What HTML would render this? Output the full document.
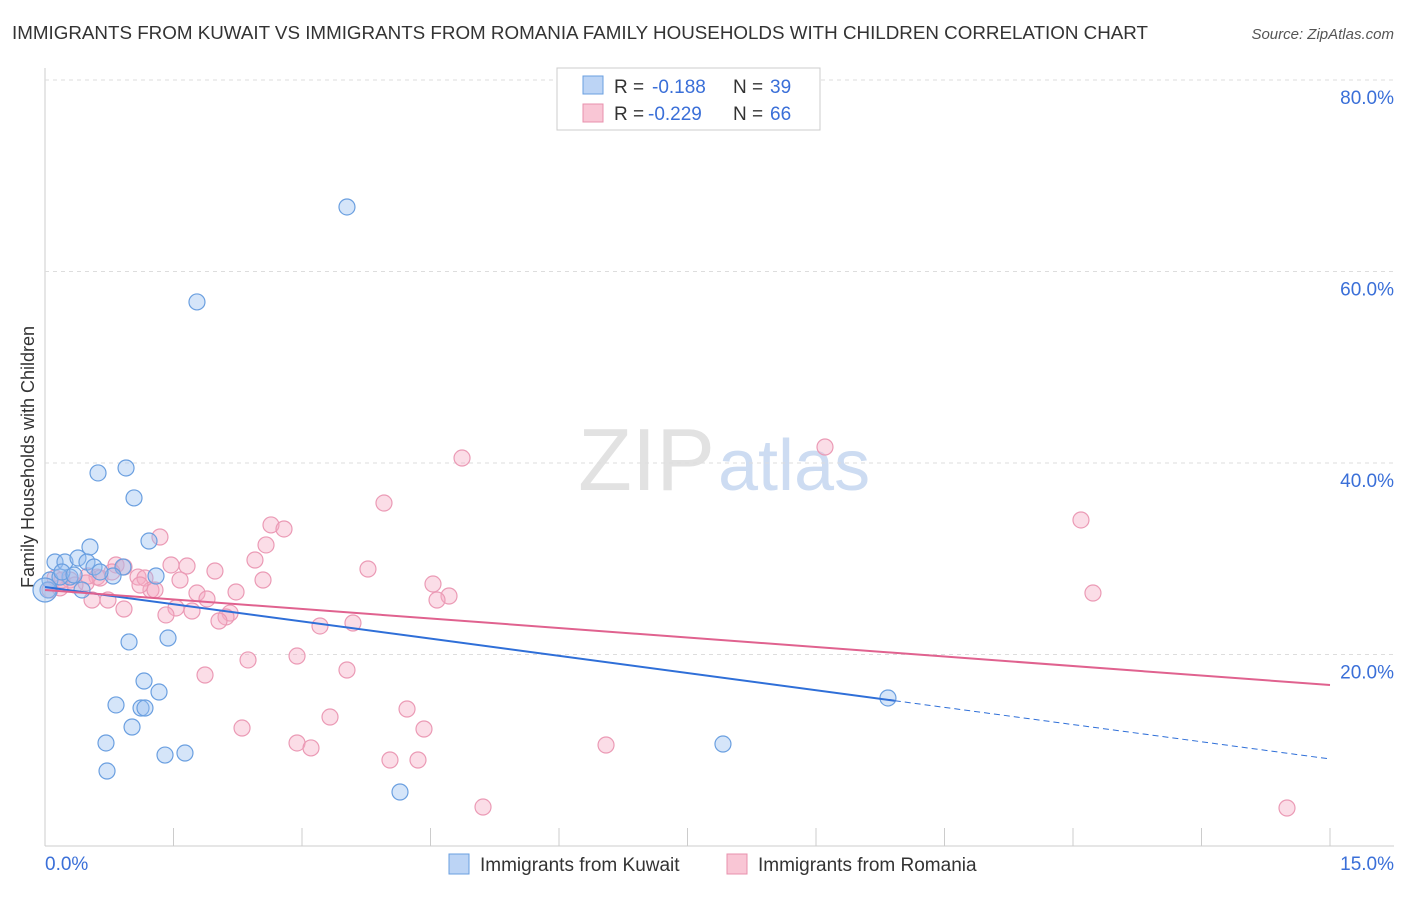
<!DOCTYPE html>
<html><head><meta charset="utf-8"><style>
body{margin:0;background:#fff;font-family:"Liberation Sans",sans-serif}
svg text{font-family:"Liberation Sans",sans-serif}
</style></head><body>
<svg id="c" width="1406" height="892">
<text x="12" y="39" font-size="18.8" fill="#333">IMMIGRANTS FROM KUWAIT VS IMMIGRANTS FROM ROMANIA FAMILY HOUSEHOLDS WITH CHILDREN CORRELATION CHART</text>
<text x="1394" y="39" font-size="15" fill="#555" font-style="italic" text-anchor="end">Source: ZipAtlas.com</text>
<text x="715" y="490" font-size="88" fill="#e2e2e2" text-anchor="end" font-family="Liberation Serif">ZIP</text>
<text x="718" y="490" font-size="72" fill="#cddcf2">atlas</text>
<text transform="translate(34,457) rotate(-90)" font-size="18" fill="#333" text-anchor="middle">Family Households with Children</text>
<g id="grid"></g><g id="pts"></g><g id="lines"></g>
<g>
<rect x="557" y="68" width="263" height="62" fill="#fff" stroke="#ccc"/>
<rect x="583" y="76" width="20" height="18" fill="#bcd4f5" stroke="#6a9fe0"/>
<rect x="583" y="104" width="20" height="18" fill="#f9c6d5" stroke="#e890ad"/>
<g font-size="19">
<text x="614" y="93" fill="#333">R =</text><text x="652" y="93" fill="#3a6fd8">-0.188</text>
<text x="733" y="93" fill="#333">N =</text><text x="770" y="93" fill="#3a6fd8">39</text></g>
<g font-size="19">
<text x="614" y="120" fill="#333">R =</text><text x="648" y="120" fill="#3a6fd8">-0.229</text>
<text x="733" y="120" fill="#333">N =</text><text x="770" y="120" fill="#3a6fd8">66</text></g>
</g>
<g>
<rect x="449" y="854" width="20" height="20" fill="#bcd4f5" stroke="#6a9fe0"/>
<text x="480" y="871" font-size="19" fill="#333">Immigrants from Kuwait</text>
<rect x="727" y="854" width="20" height="20" fill="#f9c6d5" stroke="#e890ad"/>
<text x="758" y="871" font-size="19" fill="#333">Immigrants from Romania</text>
</g>
<text x="45" y="870" font-size="19" fill="#3a6fd8">0.0%</text>
<text x="1394" y="870" font-size="19" fill="#3a6fd8" text-anchor="end">15.0%</text>
</svg>
<script>
const yTicks=[20,40,60,80];
const yTickLabels=["20.0%","40.0%","60.0%","80.0%"];
const xTicks=[0,1.5,3,4.5,6,7.5,9,10.5,12,13.5,15];
const kuwaitX=[3.525,1.774,0.946,0.619,1.039,1.214,0.525,0.117,0.233,0.385,0.49,0.572,0.91,1.296,0.794,0.292,0.058,0.175,0.035,0.432,1.436,0.981,1.156,1.331,0.829,1.121,1.167,1.016,0.712,1.634,1.401,0.724,4.144,7.914,9.84,0,0.198,0.339,0.642];
const kuwaitY=[66.74,56.82,39.48,38.96,36.35,31.85,31.23,29.66,29.66,30.08,29.66,29.14,29.14,28.2,28.2,28.09,27.78,28.09,26.74,26.74,21.72,21.31,17.23,16.08,14.73,14.41,14.41,12.43,10.76,9.71,9.5,7.83,5.64,10.65,15.46,26.74,28.62,28.3,28.62];
const romaniaX=[9.105,4.868,12.093,3.957,2.638,2.79,1.342,2.58,2.451,0.829,0.922,1.471,1.658,1.984,3.77,1.086,1.167,1.576,2.545,4.529,0.607,0.479,0.642,12.233,4.716,4.576,1.774,2.23,1.237,1.284,1.891,0.735,0.922,1.529,1.716,2.16,1.412,2.113,2.031,3.21,3.595,2.942,2.37,3.525,1.868,3.327,4.226,2.3,4.424,2.942,3.105,6.549,4.027,4.354,5.113,14.498,0.117,0.198,0.292,0.058,0.35,0.502,0.175,0.782,1.109,0.549];
const romaniaY=[41.67,40.52,34.05,35.82,33.53,33.11,32.27,31.44,29.87,29.35,29.14,29.35,29.24,28.72,28.93,28.09,27.99,27.78,27.78,27.36,28.09,27.47,27.99,26.42,26.11,25.69,26.42,26.53,26.74,26.74,25.8,25.69,24.75,24.86,24.54,24.33,24.13,23.92,23.5,22.98,23.29,19.84,19.43,18.38,17.86,13.47,14.31,12.32,12.22,10.76,10.24,10.55,8.98,8.98,4.07,3.97,27.99,27.78,27.78,26.74,27.26,28.2,26.95,28.62,27.26,25.69];
const kuwaitTrend=[27.05,9.09];
const kuwaitSolidEnd=9.92;
const romaniaTrend=[26.74,16.81];
const NS="http://www.w3.org/2000/svg";
const X=v=>45+v/15*1285, Y=v=>846-v*9.575;
function mk(t,a,p){const e=document.createElementNS(NS,t);for(const k in a)e.setAttribute(k,a[k]);p.appendChild(e);return e;}
const grid=document.getElementById('grid');
mk('line',{x1:45,y1:68,x2:45,y2:846,stroke:'#ccc'},grid);
mk('line',{x1:45,y1:846,x2:1394,y2:846,stroke:'#ccc'},grid);
yTicks.forEach((t,i)=>{
 const l=mk('line',{x1:45,y1:Y(t),x2:1394,y2:Y(t),stroke:'#ddd','stroke-dasharray':'4,4'},grid);
 
 
 const tx=mk('text',{x:1394,y:Y(t)+24,'font-size':19,fill:'#3a6fd8','text-anchor':'end'},grid);
 tx.textContent=yTickLabels[i];
 
 
});
xTicks.forEach(t=>{
 const l=mk('line',{x1:X(t),y1:828,x2:X(t),y2:846,stroke:'#ccc'},grid);
 
 
});
const pts=document.getElementById('pts');
romaniaX.forEach((x,i)=>{
 const c=mk('circle',{cx:X(x),cy:Y(romaniaY[i]),r:8,fill:'rgba(245,170,195,0.4)',stroke:'#eb9ab5','stroke-width':1.2},pts);
 
 
});
kuwaitX.forEach((x,i)=>{
 const c=mk('circle',{cx:X(x),cy:Y(kuwaitY[i]),r:i==35?12:8,fill:'rgba(150,190,240,0.4)',stroke:'#6a9fe0','stroke-width':1.2},pts);
 
 
});
const lines=document.getElementById('lines');
const ky=v=>kuwaitTrend[0]+(kuwaitTrend[1]-kuwaitTrend[0])*v/15;
let a=mk('line',{x1:X(0),y1:Y(ky(0)),x2:X(kuwaitSolidEnd),y2:Y(ky(kuwaitSolidEnd)),stroke:'#2f6fd8','stroke-width':2},lines);


a=mk('line',{x1:X(kuwaitSolidEnd),y1:Y(ky(kuwaitSolidEnd)),x2:X(15),y2:Y(ky(15)),stroke:'#2f6fd8','stroke-width':1,'stroke-dasharray':'6,4'},lines);


a=mk('line',{x1:X(0),y1:Y(romaniaTrend[0]),x2:X(15),y2:Y(romaniaTrend[1]),stroke:'#e0628f','stroke-width':2},lines);


</script>
</body></html>
